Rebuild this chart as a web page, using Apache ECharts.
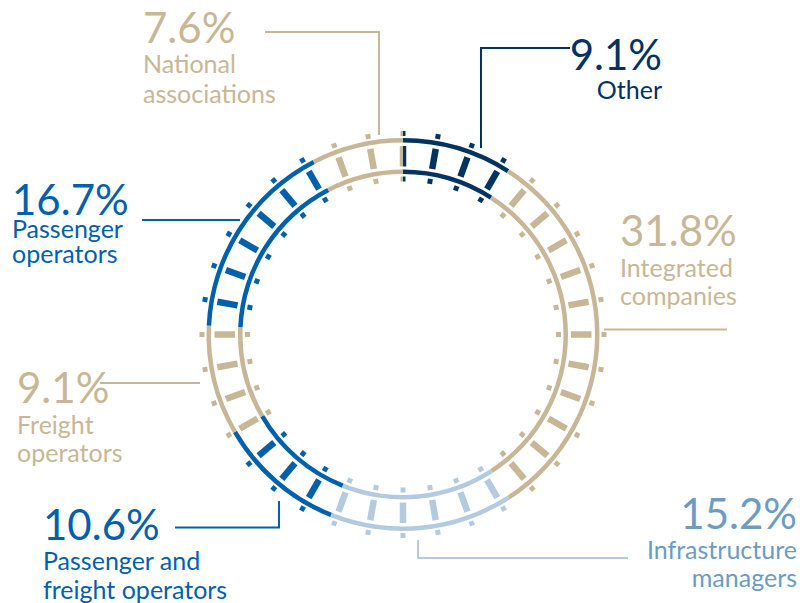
<!DOCTYPE html>
<html><head><meta charset="utf-8">
<script src="https://cdn.jsdelivr.net/npm/echarts@6/dist/echarts.min.js"></script>
<style>html,body{margin:0;padding:0;background:#fff}#c{width:800px;height:603px}</style>
</head><body><div id="c"></div>
<script>
// ---- data ----
const categories = ['Other', 'Integrated companies', 'Infrastructure managers', 'Passenger and freight operators', 'Freight operators', 'Passenger operators', 'National associations'];
const nameLines = [['Other'], ['Integrated', 'companies'], ['Infrastructure', 'managers'], ['Passenger and', 'freight operators'], ['Freight', 'operators'], ['Passenger', 'operators'], ['National', 'associations']];
const shares = [9.1, 31.8, 15.2, 10.6, 9.1, 16.7, 7.6];
const segmentColors = ['#00335f', '#c8b796', '#b4cae0', '#0060ac', '#c8b796', '#0060ac', '#c8b796'];
const textColors = ['#00335f', '#c8b796', '#6c9cc2', '#0060ac', '#c8b796', '#0060ac', '#c8b796'];
// decorative sleepers (degrees, clockwise from top)
const sleeperAngles = [0, 10, 20, 30, 40, 50, 60, 70, 80, 90, 100, 110, 120, 130, 140, 150, 160, 170, 180, 190, 200, 210, 220, 230, 240, 250, 260, 270, 280, 290, 300, 310, 320, 330, 340, 350];

// ---- layout / style ----
const CX = 403, CY = 334.5;
const FONT = 'Lato, "Open Sans", sans-serif';
// py: centre of percentage line, hp/hn: line heights of percentage / name lines
const labelLayout = [
  { x: 662, py: 53.5, hp: 42, hn: 28, align: 'right', line: [[481, 148], [481, 48], [570, 48]] },
  { x: 620, py: 229.5, hp: 46, hn: 28, align: 'left', line: [[604, 329.5], [727, 329.5]] },
  { x: 797, py: 512.5, hp: 44, hn: 28, align: 'right', line: [[418, 540], [418, 558], [628, 558]] },
  { x: 43, py: 523.5, hp: 43, hn: 29, align: 'left', line: [[175, 527.5], [279, 527.5], [279, 501]] },
  { x: 17, py: 386.5, hp: 46, hn: 28, align: 'left', line: [[100, 383], [200, 383]] },
  { x: 12, py: 198.5, hp: 33, hn: 25, align: 'left', line: [[142, 220], [240, 220]] },
  { x: 143, py: 26.5, hp: 42, hn: 30, align: 'left', line: [[265, 32], [379, 32], [379, 135]] }
];

const total = shares.reduce((s, v) => s + v, 0);
const cumDeg = [];
{ let c = 0; shares.forEach(v => { c += v; cumDeg.push(c / total * 360); }); }
function colorAt(t) {
  t = ((t % 360) + 360) % 360;
  for (let i = 0; i < cumDeg.length; i++) if (t < cumDeg[i]) return segmentColors[i];
  return segmentColors[segmentColors.length - 1];
}

const pieData = categories.map((c, i) => ({ name: c, value: shares[i], itemStyle: { color: segmentColors[i] } }));
function railSeries(r0, r1) {
  return {
    type: 'pie', radius: [r0, r1], center: [CX, CY], startAngle: 90, clockwise: true,
    data: pieData, label: { show: false }, labelLine: { show: false },
    itemStyle: { borderWidth: 0 }, silent: true, animation: false, emphasis: { disabled: true }
  };
}

const graphics = [];
categories.forEach((c, i) => {
  const L = labelLayout[i];
  graphics.push({
    type: 'polyline', silent: true,
    shape: { points: L.line },
    style: { stroke: segmentColors[i], lineWidth: 2, fill: null }
  });
  const txt = '{p|' + shares[i].toFixed(1) + '%}\n' + nameLines[i].map(s => '{n|' + s + '}').join('\n');
  graphics.push({
    type: 'text', silent: true,
    style: {
      text: txt, x: L.x, y: L.py - L.hp / 2, fill: textColors[i], textAlign: L.align, textVerticalAlign: 'top',
      rich: {
        p: { fontFamily: FONT, fontSize: 42, fontWeight: 400, lineHeight: L.hp, fill: textColors[i], align: L.align },
        n: { fontFamily: FONT, fontSize: 25, fontWeight: 400, lineHeight: L.hn, fill: textColors[i], align: L.align }
      }
    }
  });
});

const chart = echarts.init(document.getElementById('c'), null, { renderer: 'svg' });
chart.setOption({
  animation: false,
  backgroundColor: '#fff',
  polar: { center: [CX, CY], radius: 210 },
  angleAxis: { type: 'value', min: 0, max: 360, startAngle: 90, clockwise: true, show: false },
  radiusAxis: { type: 'value', min: 0, max: 210, show: false },
  series: [
    railSeries(192, 196.5),
    railSeries(160.5, 165),
    {
      type: 'custom', coordinateSystem: 'polar', silent: true,
      data: sleeperAngles.map(a => [178, a]),
      renderItem: function (params, api) {
        const a = api.value(1);
        const onStart = Math.abs(a % 360) < 0.01; // sleeper sitting on the ring's start boundary
        const rad = a * Math.PI / 180;
        const tx = Math.cos(rad), ty = Math.sin(rad); // clockwise tangent (screen)
        const line = (r1, r2, w, color, off) => {
          const p1 = api.coord([r1, a]), p2 = api.coord([r2, a]);
          return { type: 'line', shape: { x1: p1[0] + tx * off, y1: p1[1] + ty * off, x2: p2[0] + tx * off, y2: p2[1] + ty * off }, style: { stroke: color, lineWidth: w, lineCap: 'butt' } };
        };
        const parts = [[153, 158, 5], [168, 188.5, 6.5], [198.5, 203.5, 5]];
        const children = [];
        parts.forEach(p => {
          if (onStart) {
            children.push(line(p[0], p[1], p[2] / 2, colorAt(a - 1), -p[2] / 4));
            children.push(line(p[0], p[1], p[2] / 2, colorAt(a + 1), p[2] / 4));
          } else {
            children.push(line(p[0], p[1], p[2], colorAt(a + 1.5), 0));
          }
        });
        return { type: 'group', children: children };
      }
    }
  ],
  graphic: graphics
});
</script>
</body></html>
